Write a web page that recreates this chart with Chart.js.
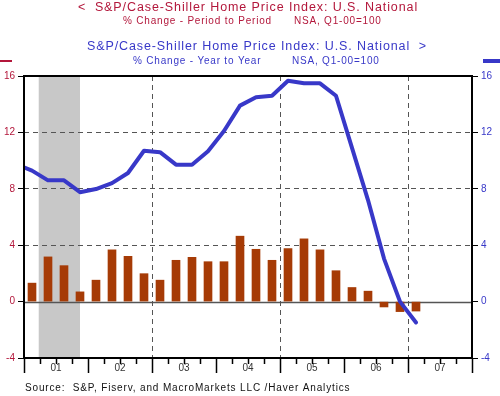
<!DOCTYPE html>
<html>
<head>
<meta charset="utf-8">
<script src="https://cdn.jsdelivr.net/npm/chart.js@4/dist/chart.umd.min.js"></script>
<style>
  html, body { margin: 0; padding: 0; background: #fff; }
  #wrap { width: 500px; height: 396px; }
</style>
</head>
<body>
<div id="wrap"><canvas id="myChart" width="500" height="396"></canvas></div>
<script>
const quarters = [
  '2000Q4',
  '2001Q1', '2001Q2', '2001Q3', '2001Q4',
  '2002Q1', '2002Q2', '2002Q3', '2002Q4',
  '2003Q1', '2003Q2', '2003Q3', '2003Q4',
  '2004Q1', '2004Q2', '2004Q3', '2004Q4',
  '2005Q1', '2005Q2', '2005Q3', '2005Q4',
  '2006Q1', '2006Q2', '2006Q3', '2006Q4',
  '2007Q1'
]
// % change - period to period (left axis, bars)
const periodChange = [
  null,
  1.31, 3.17, 2.55, 0.69,
  1.52, 3.67, 3.21, 1.98,
  1.52, 2.93, 3.14, 2.83,
  2.83, 4.64, 3.71, 2.93,
  3.76, 4.45, 3.67, 2.19,
  1.0, 0.74, -0.38, -0.71,
  -0.67
]
// % change - year to year (right axis, line)
const yearChange = [
  9.75,
  9.29, 8.6, 8.6, 7.76,
  7.98, 8.4, 9.12, 10.7,
  10.6, 9.71, 9.71, 10.67,
  12.1, 13.9, 14.5, 14.6,
  15.66, 15.48, 15.48, 14.6,
  10.9, 7.2, 3.05, 0.0,
  -1.48
]
const yearLabels = ['01', '02', '03', '04', '05', '06', '07']
const valueTicks = [-4, 0, 4, 8, 12, 16]
const recession = [2001.23, 2001.875]

const FIRST_YEAR = 2001
const RED = '#b3173b'
const BLUE = '#3838c8'
const FONT = '"Liberation Sans", Arial, sans-serif'

// quarter 'YYYYQn' -> position in quarters from start of 2001 (centered)
function quarterX (q) {
  const year = parseInt(q.slice(0, 4))
  const n = parseInt(q.slice(5))
  return (year - FIRST_YEAR) * 4 + (n - 1) + 0.5
}

function yearX (y) {
  return (y - FIRST_YEAR) * 4
}

const barData = quarters.map((q, i) => ({ x: quarterX(q), y: periodChange[i] }))
const lineData = quarters.map((q, i) => ({ x: quarterX(q), y: yearChange[i] }))

function drawText (ctx, text, x, y, size, spacing) {
  ctx.font = size + 'px ' + FONT
  ctx.letterSpacing = spacing + 'px'
  ctx.fillText(text, x, y)
}

const decorPlugin = {
  id: 'decor',
  beforeDraw (chart) {
    const { ctx, chartArea, scales } = chart
    const x0 = scales.x.getPixelForValue(yearX(recession[0]))
    const x1 = scales.x.getPixelForValue(yearX(recession[1]))
    ctx.save()
    ctx.fillStyle = '#c8c8c8'
    ctx.fillRect(x0, chartArea.top, x1 - x0, chartArea.bottom - chartArea.top)
    ctx.restore()
  },
  beforeDatasetsDraw (chart) {
    const { ctx, chartArea, scales } = chart
    const y0 = Math.round(scales.y.getPixelForValue(0)) + 0.5
    ctx.save()
    ctx.strokeStyle = '#555'
    ctx.lineWidth = 1.5
    ctx.beginPath()
    ctx.moveTo(chartArea.left, y0)
    ctx.lineTo(chartArea.right, y0)
    ctx.stroke()
    ctx.restore()
  },
  afterDraw (chart) {
    const { ctx, chartArea, scales } = chart
    ctx.save()

    // frame
    ctx.strokeStyle = '#000'
    ctx.lineWidth = 2
    ctx.strokeRect(chartArea.left, chartArea.top, chartArea.right - chartArea.left, chartArea.bottom - chartArea.top)

    // x tick marks: long at year starts, short at quarters
    ctx.lineWidth = 1.5
    ctx.beginPath()
    for (let v = 0; v <= yearLabels.length * 4; v++) {
      const px = Math.round(scales.x.getPixelForValue(v)) + 0.5
      const len = v % 4 === 0 ? 14 : 5
      ctx.moveTo(px, chartArea.bottom + 1)
      ctx.lineTo(px, chartArea.bottom + 1 + len)
    }
    ctx.stroke()

    // headers
    ctx.textBaseline = 'middle'
    ctx.fillStyle = RED
    ctx.textAlign = 'center'
    drawText(ctx, '<  S&P/Case-Shiller Home Price Index: U.S. National', 248, 8, 12.5, 0.9)
    ctx.textAlign = 'left'
    drawText(ctx, '% Change - Period to Period', 123, 21, 10, 0.8)
    drawText(ctx, 'NSA, Q1-00=100', 294, 21, 10, 0.8)

    ctx.fillStyle = BLUE
    ctx.textAlign = 'center'
    drawText(ctx, 'S&P/Case-Shiller Home Price Index: U.S. National  >', 257, 47, 12.5, 0.9)
    ctx.textAlign = 'left'
    drawText(ctx, '% Change - Year to Year', 133, 61, 10, 0.8)
    drawText(ctx, 'NSA, Q1-00=100', 292, 61, 10, 0.8)

    // series markers
    ctx.fillStyle = RED
    ctx.fillRect(0, 60, 12, 2)
    ctx.fillStyle = BLUE
    ctx.fillRect(483, 59, 17, 4)

    // source
    ctx.fillStyle = '#111'
    drawText(ctx, 'Source:  S&P, Fiserv, and MacroMarkets LLC /Haver Analytics', 25, 388, 10, 0.85)

    ctx.restore()
  }
}

function yAxis (position, color, width) {
  return {
    type: 'linear',
    position,
    min: -4,
    max: 16,
    afterBuildTicks: scale => { scale.ticks = valueTicks.map(v => ({ value: v })) },
    afterFit: scale => { scale.width = width },
    ticks: {
      color,
      font: { size: 10, family: FONT },
      padding: 3
    },
    grid: {
      drawOnChartArea: position === 'left',
      color: ctx => (ctx.tick && (ctx.tick.value === 0 || ctx.tick.value === 16 || ctx.tick.value === -4)) ? 'rgba(0,0,0,0)' : '#555',
      tickColor: '#000',
      tickLength: 6,
      lineWidth: 1
    },
    border: { display: false, dash: [5, 4] }
  }
}

function createChart () {
  const ctx = document.getElementById('myChart').getContext('2d')
  // eslint-disable-next-line no-unused-vars
  const myChart = new Chart(ctx, {
    type: 'bar',
    data: {
      datasets: [
        {
          type: 'line',
          label: 'Year to Year',
          data: lineData,
          yAxisID: 'y1',
          borderColor: BLUE,
          borderWidth: 4,
          pointRadius: 0,
          tension: 0,
          borderJoinStyle: 'round',
          borderCapStyle: 'round',
          clip: 0,
          order: 1
        },
        {
          type: 'bar',
          label: 'Period to Period',
          data: barData,
          yAxisID: 'y',
          backgroundColor: '#a63b06',
          barThickness: 8,
          order: 2
        }
      ]
    },
    options: {
      responsive: false,
      animation: false,
      layout: { padding: { top: 76, left: 0, right: 0, bottom: 0 } },
      plugins: {
        legend: { display: false },
        tooltip: { enabled: false }
      },
      scales: {
        x: {
          type: 'linear',
          position: 'bottom',
          offset: false,
          min: 0,
          max: yearLabels.length * 4,
          afterBuildTicks: scale => {
            const ticks = []
            for (let v = 0; v <= yearLabels.length * 4; v++) ticks.push({ value: v })
            scale.ticks = ticks
          },
          afterFit: scale => { scale.height = 38 },
          ticks: {
            autoSkip: false,
            maxRotation: 0,
            color: '#333',
            font: { size: 10, family: FONT },
            padding: 4,
            callback: value => (value % 4 === 2 ? yearLabels[(value - 2) / 4] : '')
          },
          grid: {
            offset: false,
            drawTicks: false,
            color: ctx => (ctx.tick && ctx.tick.value % 8 === 0 && ctx.tick.value > 0 && ctx.tick.value < 28) ? '#555' : 'rgba(0,0,0,0)'
          },
          border: { display: false, dash: [5, 4] }
        },
        y: yAxis('left', RED, 24),
        y1: yAxis('right', BLUE, 28)
      }
    },
    plugins: [decorPlugin]
  })
}

createChart()
</script>
</body>
</html>
